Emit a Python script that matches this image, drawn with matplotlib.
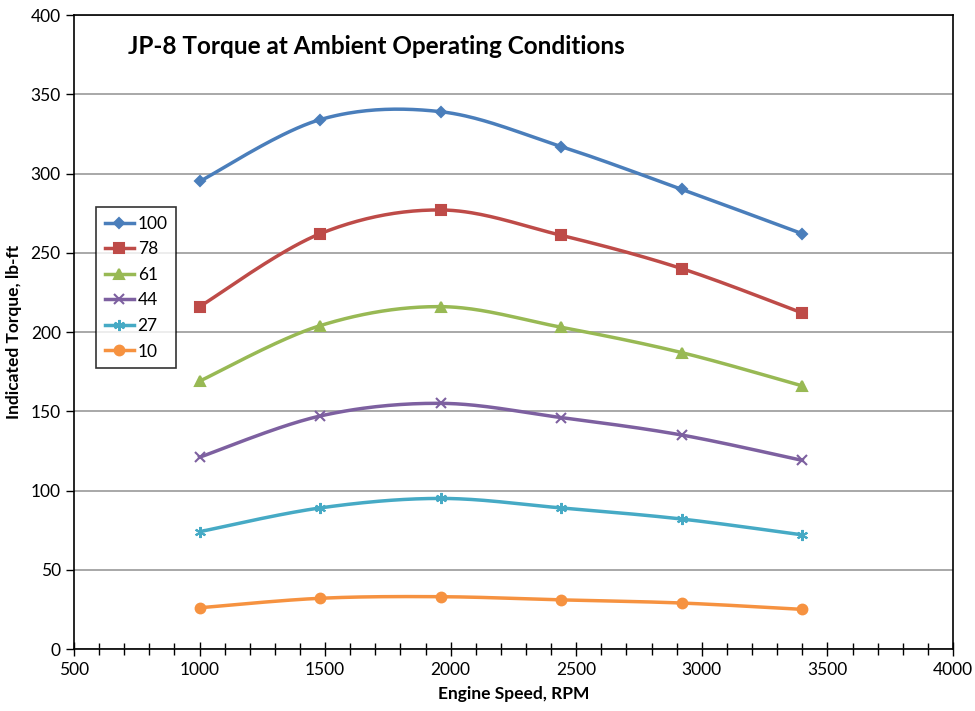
import numpy as np
import matplotlib
matplotlib.use("Agg")
import matplotlib.pyplot as plt
from matplotlib.ticker import MultipleLocator

plt.rcParams['font.family'] = ['Lato', 'DejaVu Sans']

rpm = [1000, 1480, 1960, 2440, 2920, 3400]
labels = ["100", "78", "61", "44", "27", "10"]
t100 = [295, 334, 339, 317, 290, 262]
t78 = [216, 262, 277, 261, 240, 212]
t61 = [169, 204, 216, 203, 187, 166]
t44 = [121, 147, 155, 146, 135, 119]
t27 = [74, 89, 95, 89, 82, 72]
t10 = [26, 32, 33, 31, 29, 25]
series = [t100, t78, t61, t44, t27, t10]
colors = ["#4A7EBB", "#BE4B48", "#98B954", "#7D60A0", "#46AAC5", "#F69240"]
markers = ["D", "s", "^", "x", (6, 2, 0), "o"]
msizes = [5.5, 7.5, 7, 7.5, 8, 7]


def excel_smooth(x, y, n=40):
    x = np.asarray(x, float)
    y = np.asarray(y, float)
    P = np.column_stack([x, y])
    out = []
    for i in range(len(P) - 1):
        p0 = P[i - 1] if i > 0 else P[i]
        p1 = P[i]
        p2 = P[i + 1]
        p3 = P[i + 2] if i + 2 < len(P) else P[i + 1]
        c1 = p1 + (p2 - p0) / 6.0
        c2 = p2 - (p3 - p1) / 6.0
        t = np.linspace(0, 1, n)[:, None]
        b = ((1 - t) ** 3) * p1 + 3 * ((1 - t) ** 2) * t * c1 + 3 * (1 - t) * t ** 2 * c2 + t ** 3 * p2
        out.append(b if i == 0 else b[1:])
    B = np.vstack(out)
    return B[:, 0], B[:, 1]


fig = plt.figure(figsize=(9.75, 7.11), dpi=100)
ax = fig.add_axes([0.0759, 0.0872, 0.9015, 0.8917])

for ys, lab, c, m, ms in zip(series, labels, colors, markers, msizes):
    sx, sy = excel_smooth(rpm, ys)
    ax.plot(sx, sy, color=c, lw=2.5, zorder=3)
    ax.plot(rpm, ys, linestyle='none', marker=m, color=c, ms=ms, mew=1.5, zorder=4)
    ax.plot([], [], color=c, lw=2.5, marker=m, ms=ms, mew=1.5, label=lab)

ax.set_xlim(500, 4000)
ax.set_ylim(0, 400)
ax.xaxis.set_major_locator(MultipleLocator(500))
ax.xaxis.set_minor_locator(MultipleLocator(100))
ax.yaxis.set_major_locator(MultipleLocator(50))
ax.yaxis.grid(True, color='#9a9a9a', lw=1.2)
ax.set_axisbelow(True)
ax.tick_params(axis='x', which='major', direction='inout', length=10, width=1, labelsize=12.5, pad=4)
ax.tick_params(axis='x', which='minor', direction='inout', length=8, width=1)
ax.tick_params(axis='y', which='major', direction='out', length=6, width=1, labelsize=12.5)
for s in ax.spines.values():
    s.set_color('black')
    s.set_linewidth(1.2)

ax.set_xlabel("Engine Speed, RPM", fontsize=12.5, fontweight='bold', labelpad=6)
ax.set_ylabel("Indicated Torque, lb-ft", fontsize=12.5, fontweight='bold', labelpad=6)

ax.text(0.061, 0.95, "JP-8 Torque at Ambient Operating Conditions", transform=ax.transAxes,
        fontsize=17.5, fontweight='bold', va='center', ha='left')

leg = ax.legend(loc='upper left', bbox_to_anchor=(0.025, 0.697), frameon=True, fancybox=False,
                edgecolor='black', fontsize=12.5, handlelength=1.7, handletextpad=0.2,
                labelspacing=0.55, borderpad=0.5, borderaxespad=0)
leg.get_frame().set_linewidth(1.2)

fig.savefig("out.png", dpi=100)
